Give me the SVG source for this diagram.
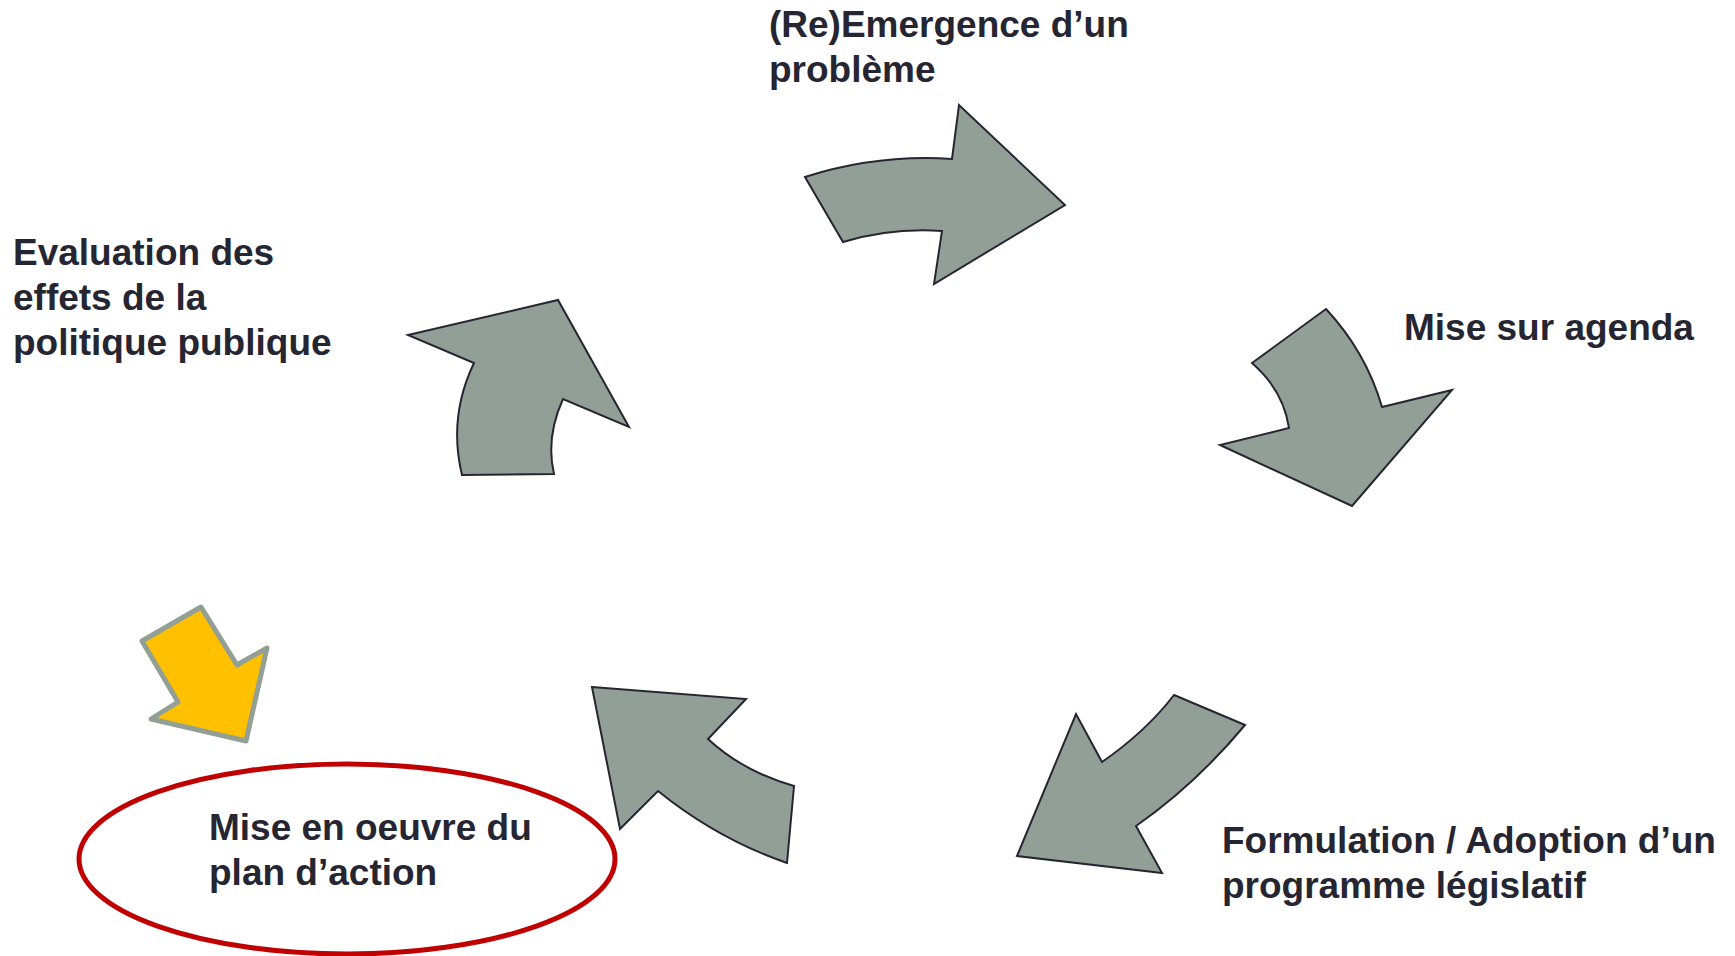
<svg xmlns="http://www.w3.org/2000/svg" width="1735" height="956" viewBox="0 0 1735 956">
<style>
.arr{fill:#929f96;stroke:#262633;stroke-width:2;stroke-linejoin:miter}
.lbl{font-family:"Liberation Sans",Arial,sans-serif;font-weight:bold;font-size:37px;fill:#262633}
</style>
<rect width="1735" height="956" fill="#ffffff"/>
<g id="connectors">
<path id="arrow-top" class="arr" d="M805,177 Q877.5,154 952,159 L959,105 L1065,205 L934,284 L942,231 Q891.5,227.5 843,242 Z"/>
<path id="arrow-right" class="arr" d="M1326,309 Q1366,352 1382,407 L1452,390 L1352,506 L1220,445 L1289,428 Q1283.5,390.5 1252,363 Z"/>
<path id="arrow-bottom-right" class="arr" d="M1174,695 L1245,725 Q1195.5,784.5 1136,826 L1162,873 L1017,856 L1076,714 L1102,762 Q1146,731.5 1174,695 Z"/>
<path id="arrow-bottom" class="arr" d="M592,687 L746,699 L708,739 Q743,771.5 794,786 L787,863 Q717.5,839 658,791 L620,829 Z"/>
<path id="arrow-left" class="arr" d="M408,335 L558,300 L629,427 L563,399 Q545.5,437.5 554,474 L462,475 Q448,417 474,363 Z"/>
<path id="arrow-highlight" d="M201,607 L237,665 L267,648 L246,741 L151,719 L178,702 L142,641 Z" fill="#ffc000" stroke="#919f95" stroke-width="5" stroke-linejoin="round"/>
</g>
<g id="node-emergence">
<text class="lbl" x="769" y="37">(Re)Emergence d’un</text>
<text class="lbl" x="769" y="82">problème</text>
</g>
<g id="node-agenda">
<text class="lbl" x="1404" y="340">Mise sur agenda</text>
</g>
<g id="node-formulation">
<text class="lbl" x="1222" y="853">Formulation / Adoption d’un</text>
<text class="lbl" x="1222" y="898">programme législatif</text>
</g>
<g id="node-mise-en-oeuvre">
<ellipse cx="347" cy="859" rx="268" ry="95" fill="none" stroke="#c00000" stroke-width="5"/>
<text class="lbl" x="209" y="840">Mise en oeuvre du</text>
<text class="lbl" x="209" y="885">plan d’action</text>
</g>
<g id="node-evaluation">
<text class="lbl" x="13" y="265">Evaluation des</text>
<text class="lbl" x="13" y="310">effets de la</text>
<text class="lbl" x="13" y="355">politique publique</text>
</g>
</svg>
